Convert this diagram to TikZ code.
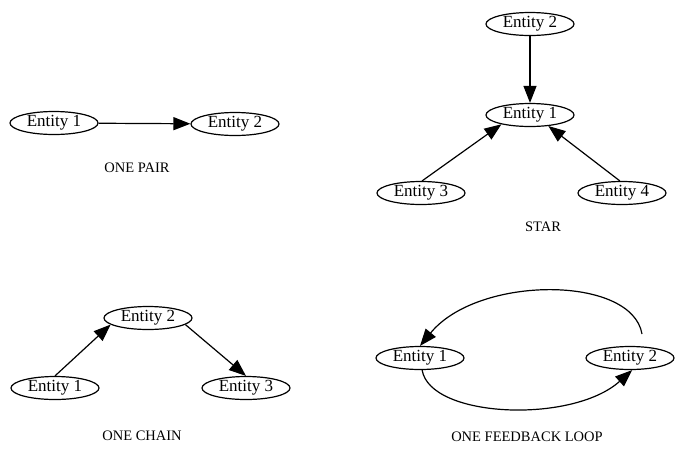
\documentclass[tikz,border=0pt]{standalone}
\usepackage{fontspec}
\setmainfont{Liberation Serif}
\usetikzlibrary{arrows.meta,shapes.geometric}
\begin{document}
\begin{tikzpicture}[x=1pt,y=-1pt,
  entity/.style={draw,ellipse,line width=1.2pt,minimum width=88pt,minimum height=23pt,
    inner sep=0pt,font=\fontsize{17}{17}\selectfont},
  caption/.style={font=\fontsize{14.5}{15}\selectfont},
  link/.style={line width=1.2pt,-{Triangle[length=17pt,width=13pt]}}]
\useasboundingbox (0,0) rectangle (675,451);

% one pair
\node[entity] (p1) at (54,123) {Entity 1};
\node[entity] (p2) at (235,124) {Entity 2};
\node[caption] (pl) at (137,168) {ONE PAIR};
\draw[link] (p1) -- (p2);

% star
\node[entity] (s2) at (530,24) {Entity 2};
\node[entity] (s1) at (530,115) {Entity 1};
\node[entity] (s3) at (421,193) {Entity 3};
\node[entity] (s4) at (622,193) {Entity 4};
\node[caption] (sl) at (543,227) {STAR};
\draw[link] (s2) -- (s1);
\draw[link] (s3.85) -- (s1.198);
\draw[link] (s4.100) -- (s1.-31);

% one chain
\node[entity] (c2) at (148,318) {Entity 2};
\node[entity] (c1) at (55,388) {Entity 1};
\node[entity] (c3) at (246,388) {Entity 3};
\node[caption] (cl) at (142,436) {ONE CHAIN};
\draw[link] (c1.north) -- (c2.190);
\draw[link] (c2.-10) -- (c3.north);

% one feedback loop
\node[entity] (l1) at (420,358) {Entity 1};
\node[entity] (l2) at (630,358) {Entity 2};
\node[caption] (ll) at (527,437) {ONE FEEDBACK LOOP};
\coordinate (t2) at (642,334);
\draw[link] (t2) .. controls (632,275) and (478,275) .. (l1.north);
\draw[link] (l1.-80) .. controls +(8,48) and +(-60,54) .. (l2.-80);
\end{tikzpicture}
\end{document}
